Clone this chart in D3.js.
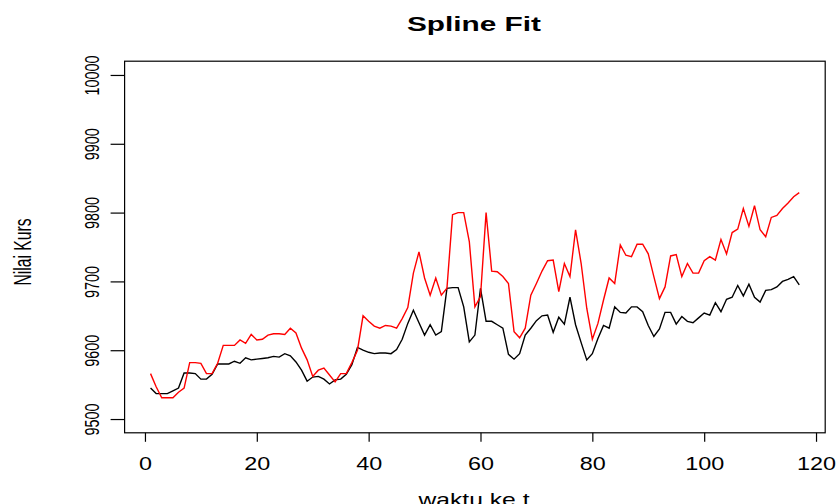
<!DOCTYPE html>
<html>
<head>
  <meta charset="utf-8">
  <title>Spline Fit</title>
  <style>
    body { margin: 0; background: #fff; }
    text { font-family: 'Liberation Sans', Arial, sans-serif; }
  </style>
</head>
<body>
  <div id='chart'></div>
  <script src="https://d3js.org/d3.v7.min.js"></script>
  <script>

    function translate(x, y) {
      return 'translate(' + x + ',' + y + ')';
    }

    // ---------------------------------------------------------- data
    let xTicks = [0, 20, 40, 60, 80, 100, 120];
    let yTicks = [9500, 9600, 9700, 9800, 9900, 10000];

    let black_data = [
      9545, 9537, 9537, 9537, 9541, 9545, 9567, 9567, 9566, 9558,
      9558, 9565, 9580, 9580, 9580, 9584, 9581, 9589, 9586, 9587,
      9588, 9589, 9591, 9590, 9595, 9592, 9583, 9571, 9555, 9561,
      9562, 9558, 9551, 9557, 9558, 9565, 9579, 9604, 9600, 9597,
      9595, 9596, 9596, 9595, 9601, 9616, 9639, 9658, 9640, 9622,
      9637, 9622, 9627, 9690, 9691, 9691, 9663, 9612, 9622, 9690,
      9642, 9642, 9637, 9632, 9594, 9587, 9595, 9622, 9632, 9643,
      9650, 9651, 9626, 9648, 9638, 9677, 9637, 9611, 9586, 9595,
      9617, 9636, 9632, 9663, 9655, 9654, 9663, 9663, 9656, 9636,
      9620, 9631, 9655, 9655, 9638, 9649, 9642, 9640, 9647, 9654,
      9651, 9669, 9656, 9674, 9677, 9694, 9679, 9696, 9677, 9670,
      9687, 9688, 9692, 9700, 9703, 9707, 9695
    ];

    let red_data = [
      9566, 9547, 9531, 9531, 9531, 9539, 9545, 9582, 9582, 9581,
      9566, 9566, 9581, 9607, 9607, 9607, 9615, 9610, 9623, 9615,
      9616, 9622, 9624, 9624, 9623, 9632, 9625, 9603, 9586, 9562,
      9571, 9574, 9564, 9554, 9566, 9566, 9582, 9600, 9650, 9642,
      9635, 9632, 9636, 9635, 9632, 9646, 9662, 9712, 9743, 9705,
      9680, 9705, 9680, 9690, 9797, 9800, 9800, 9758, 9663, 9678,
      9800, 9715, 9714, 9707, 9697, 9627, 9618, 9632, 9680, 9697,
      9715, 9730, 9731, 9685, 9726, 9707, 9775, 9726, 9661, 9616,
      9639, 9673, 9705, 9697, 9753, 9738, 9736, 9754, 9754, 9740,
      9707, 9675, 9692, 9737, 9739, 9707, 9726, 9712, 9712, 9730,
      9736, 9731, 9761, 9740, 9771, 9776, 9806, 9780, 9810, 9775,
      9765, 9793, 9796, 9806, 9814, 9823, 9829
    ];

    // ---------------------------------------------------------- layout
    let svgWidth = 838;
    let svgHeight = 504;

    // R style: 4% padding around the data range
    let x = d3.scaleLinear()
      .domain([-3.64, 121.64])
      .range([124.6, 825.2]);

    let y = d3.scaleLinear()
      .domain([9480, 10020])
      .range([432.8, 61.2]);

    let svg = d3.select('#chart')
      .append('svg')
      .attr('width', svgWidth)
      .attr('height', svgHeight);

    // ---------------------------------------------------------- lines
    let line = d3.line()
      .x((d, i) => x(i + 1))
      .y(d => y(d));

    svg.append('path')
      .datum(black_data)
      .attr('d', line)
      .attr('fill', 'none')
      .attr('stroke', '#000')
      .attr('stroke-width', 1.4);

    svg.append('path')
      .datum(red_data)
      .attr('d', line)
      .attr('fill', 'none')
      .attr('stroke', '#ff0000')
      .attr('stroke-width', 1.4);

    // ---------------------------------------------------------- box
    svg.append('rect')
      .attr('x', x.range()[0])
      .attr('y', y.range()[1])
      .attr('width', x.range()[1] - x.range()[0])
      .attr('height', y.range()[0] - y.range()[1])
      .attr('fill', 'none')
      .attr('stroke', '#000')
      .attr('stroke-width', 1.2);

    // ---------------------------------------------------------- axes
    let xAxis = svg.append('g')
      .attr('transform', translate(0, y.range()[0]))
      .call(d3.axisBottom(x).tickValues(xTicks).tickSize(9).tickSizeOuter(0)
        .tickFormat(d3.format('d')));

    xAxis.select('.domain').remove();
    xAxis.selectAll('line').attr('stroke-width', 1.2);
    xAxis.selectAll('text')
      .attr('y', 37)
      .attr('dy', null)
      .attr('fill', '#000')
      .style('font-size', '19px')
      .attr('textLength', d => String(d).length * 13)
      .attr('lengthAdjust', 'spacingAndGlyphs');

    let yAxis = svg.append('g')
      .attr('transform', translate(x.range()[0], 0))
      .call(d3.axisLeft(y).tickValues(yTicks).tickSize(14).tickSizeOuter(0)
        .tickFormat(d3.format('d')));

    yAxis.select('.domain').remove();
    yAxis.selectAll('line').attr('stroke-width', 1.2);
    yAxis.selectAll('text')
      .attr('x', null)
      .attr('dy', null)
      .attr('transform', 'translate(-26,0) rotate(-90)')
      .attr('text-anchor', 'middle')
      .attr('fill', '#000')
      .style('font-size', '21px')
      .attr('textLength', d => String(d).length * 8)
      .attr('lengthAdjust', 'spacingAndGlyphs');

    // ---------------------------------------------------------- titles
    svg.append('text')
      .attr('x', 474)
      .attr('y', 31)
      .attr('text-anchor', 'middle')
      .style('font-size', '20px')
      .style('font-weight', 'bold')
      .attr('textLength', 134)
      .attr('lengthAdjust', 'spacingAndGlyphs')
      .text('Spline Fit');

    // cut by the bottom edge, as in the original
    svg.append('text')
      .attr('x', 474)
      .attr('y', 506)
      .attr('text-anchor', 'middle')
      .style('font-size', '19px')
      .attr('textLength', 111)
      .attr('lengthAdjust', 'spacingAndGlyphs')
      .text('waktu ke t');

    svg.append('text')
      .attr('transform', translate(31, 252) + ' rotate(-90)')
      .attr('text-anchor', 'middle')
      .style('font-size', '23px')
      .attr('textLength', 67)
      .attr('lengthAdjust', 'spacingAndGlyphs')
      .text('Nilai Kurs');

  </script>
</body>
</html>
